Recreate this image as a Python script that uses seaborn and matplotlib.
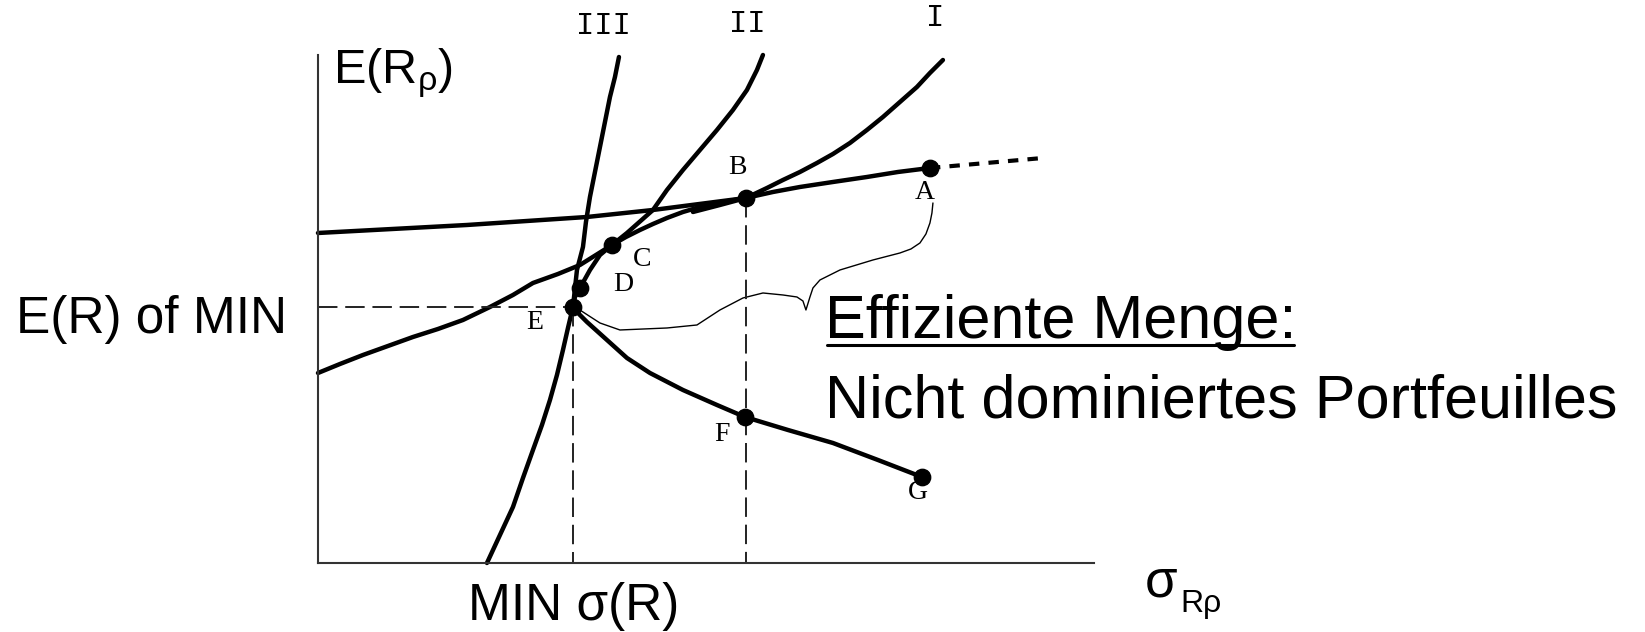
import numpy as np
import pandas as pd
import seaborn as sns
import matplotlib.pyplot as plt

# values (sigma = risk, er = expected return, arbitrary units)
frontier_sigma = [612, 580, 549, 515, 482, 455, 428, 405, 382, 365, 349, 335, 322, 308, 294, 282, 272, 262, 257, 255, 262, 269, 279, 289, 309, 332, 365, 399, 427, 470, 515, 560, 604]
frontier_er = [395, 391, 386, 381, 376, 371, 365, 361, 356, 351, 345, 339, 333, 326, 318, 308, 293, 275, 266, 256, 248, 241, 232, 223, 205, 190, 173, 158, 146, 133, 120, 103, 86]

extension_sigma = [612, 725]
extension_er = [395, 405]

line_sigma = [0, 149, 269, 335, 428]
line_er = [330, 338, 346, 353, 365]

curve_I_sigma = [625, 612, 599, 582, 565, 549, 532, 515, 499, 482, 465, 449, 428, 402, 375]
curve_I_er = [503, 490, 476, 461, 446, 433, 420, 409, 400, 391, 383, 375, 365, 358, 351]

curve_II_sigma = [445, 439, 429, 415, 399, 382, 365, 349, 335, 309, 294, 262, 240, 215, 195, 172, 145, 120, 95, 70, 45, 22, 0]
curve_II_er = [508, 493, 473, 453, 433, 413, 393, 373, 353, 330, 318, 298, 289, 280, 268, 256, 243, 234, 226, 217, 208, 199, 190]

curve_III_sigma = [301, 297, 292, 287, 282, 277, 272, 268, 265, 259, 255, 250, 245, 239, 232, 224, 215, 205, 195, 182, 169]
curve_III_er = [506, 486, 466, 441, 416, 391, 366, 341, 316, 293, 256, 235, 213, 188, 163, 138, 113, 85, 56, 28, 0]

brace_sigma = [615, 614, 612, 608, 602, 593, 582, 555, 522, 502, 495, 492, 488, 485, 479, 465, 445, 425, 402, 379, 349, 302, 282, 265, 259]
brace_er = [360, 350, 340, 329, 320, 314, 310, 303, 293, 283, 275, 266, 253, 262, 266, 268, 270, 265, 253, 238, 235, 233, 240, 251, 255]

point_names = ["A", "B", "C", "D", "E", "F", "G"]
point_sigma = [612, 428, 294, 262, 255, 427, 604]
point_er = [395, 365, 318, 275, 256, 146, 86]

curve_names = ["I", "II", "III"]

# label placement (layout only)
letter_pos = {"A": (607, 370), "B": (420, 395), "C": (324, 303), "D": (305, 278),
              "E": (217, 240), "F": (404, 128), "G": (600, 70)}
numeral_pos = {"I": (617, 545), "II": (429, 539), "III": (285, 537)}

sns.set_theme(style="white")
plt.rcParams['font.family'] = ['Liberation Sans', 'DejaVu Sans']
plt.rcParams['text.color'] = 'black'

fig = plt.figure(figsize=(16.45, 6.32), dpi=100)
ax = fig.add_axes([0.1933, 0.1092, 0.4717, 0.8038])
ax.set_xlim(0, 776)
ax.set_ylim(0, 508)

curve_kw = dict(color="black", linewidth=3.2, sort=False, estimator=None, ax=ax)
sns.lineplot(x=frontier_sigma, y=frontier_er, **curve_kw)
sns.lineplot(x=line_sigma, y=line_er, **curve_kw)
sns.lineplot(x=curve_I_sigma, y=curve_I_er, **curve_kw)
sns.lineplot(x=curve_II_sigma, y=curve_II_er, **curve_kw)
sns.lineplot(x=curve_III_sigma, y=curve_III_er, **curve_kw)
sns.lineplot(x=extension_sigma, y=extension_er, color="black", linewidth=3.0,
             sort=False, estimator=None, linestyle=(0, (2.5, 2.2)), ax=ax)
sns.lineplot(x=brace_sigma, y=brace_er, color="black", linewidth=1.0,
             sort=False, estimator=None, ax=ax)

# dashed guides from E (minimum variance) and B
pts = pd.DataFrame({"name": point_names, "sigma": point_sigma, "er": point_er}).set_index("name")
e_s, e_r = pts.loc["E", "sigma"], pts.loc["E", "er"]
b_s, b_r = pts.loc["B", "sigma"], pts.loc["B", "er"]
dash_kw = dict(color="#222222", linewidth=1.4, linestyle=(0, (10, 4)), sort=False, estimator=None, ax=ax)
sns.lineplot(x=[0, e_s], y=[e_r, e_r], **dash_kw)
sns.lineplot(x=[e_s, e_s], y=[e_r, 0], **dash_kw)
sns.lineplot(x=[b_s, b_s], y=[b_r, 0], **dash_kw)

for ln in ax.lines:
    ln.set_clip_on(False)
    ln.set_solid_joinstyle("round")
    ln.set_solid_capstyle("round")

sns.scatterplot(x=point_sigma, y=point_er, color="black", s=140, edgecolor=None,
                zorder=5, clip_on=False, ax=ax)

for name in point_names:
    x, y = letter_pos[name]
    ax.text(x, y, name, fontsize=20, family="Liberation Serif", ha="center", va="center")
for name in curve_names:
    x, y = numeral_pos[name]
    ax.text(x, y, name, fontsize=22, family="Liberation Mono", ha="center", va="center")

# axes look
sns.despine(ax=ax)
for s in ["left", "bottom"]:
    ax.spines[s].set_color("#333333")
    ax.spines[s].set_linewidth(1.5)
ax.set_xticks([])
ax.set_yticks([])

ax.text(15, 480, r"E(R$\mathregular{_ρ}$)", fontsize=35, va="baseline", ha="left")
ax.text(-31, 230, "E(R) of MIN", fontsize=37, va="baseline", ha="right")
ax.text(150, -57, "MIN σ(R)", fontsize=37, va="baseline", ha="left", clip_on=False)
ax.text(827, -34, "σ", fontsize=38, va="baseline", ha="left")
ax.text(862, -49, "Rρ", fontsize=23, va="baseline", ha="left")

title = ax.text(507, 225, "Effiziente Menge:", fontsize=44, va="baseline", ha="left")
ax.text(507, 145, "Nicht dominiertes Portfeuilles", fontsize=44, va="baseline", ha="left")

# underline under "Effiziente Menge:"
fig.canvas.draw()
bb = title.get_window_extent(fig.canvas.get_renderer())
x0 = ax.transData.inverted().transform((bb.x0, 0))[0]
x1 = ax.transData.inverted().transform((bb.x1, 0))[0]
ax.plot([x0 + 2, x1 - 2], [218, 218], color="black", linewidth=2.2, clip_on=False)

fig.savefig("out.png", dpi=100)
